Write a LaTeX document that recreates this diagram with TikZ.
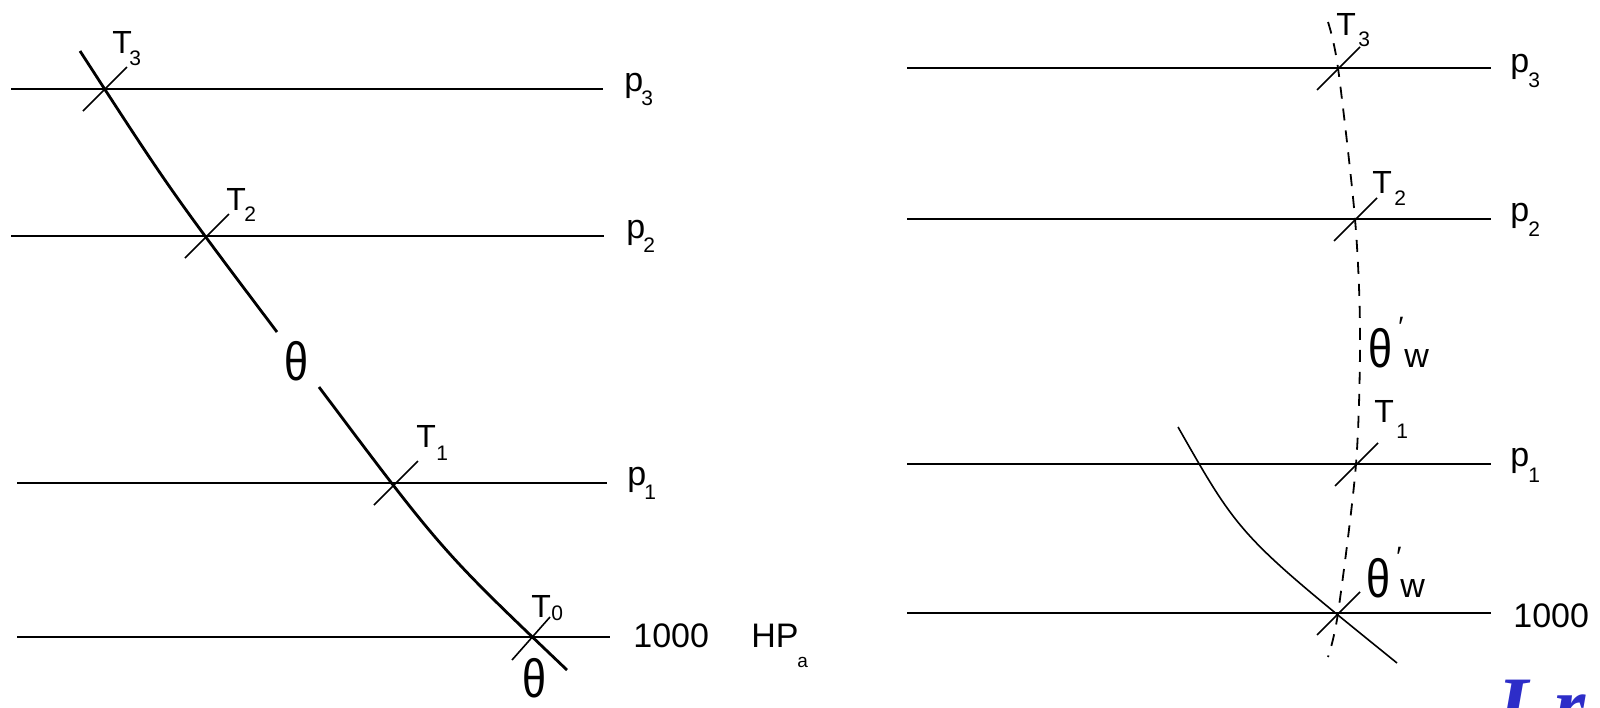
\documentclass[tikz,border=0pt]{standalone}
\usepackage{fontspec}
\setmainfont{Liberation Sans}
\newfontfamily\tms{Liberation Serif}
\definecolor{blueT}{RGB}{45,45,200}
\begin{document}
\begin{tikzpicture}[x=0.5pt,y=-0.5pt,
  hline/.style={line width=1.2pt},
  hlineR/.style={line width=0.9pt},
  curveL/.style={line width=1.4pt},
  curveR/.style={line width=0.8pt},
  dashcurve/.style={line width=0.9pt, dash pattern=on 6pt off 5pt},
  tick/.style={line width=0.8pt},
  lab/.style={inner sep=0pt, anchor=base west, font=\fontsize{17}{17}\selectfont},
  tlab/.style={inner sep=0pt, anchor=base west, font=\fontsize{16}{16}\selectfont},
  sublab/.style={inner sep=0pt, anchor=base west, font=\fontsize{10.5}{10.5}\selectfont},
  thlab/.style={inner sep=0pt, anchor=base west, font=\fontsize{27}{27}\selectfont},
  wlab/.style={inner sep=0pt, anchor=base west, font=\fontsize{17}{17}\selectfont},
  primelab/.style={inner sep=0pt, anchor=base west, font=\fontsize{14}{14}\selectfont},
]
\clip (0,0) rectangle (1600,707);
\fill[white] (0,0) rectangle (1600,707);

% ---------- left panel ----------
\coordinate (L3a) at (11,89);  \coordinate (L3b) at (603,89);
\coordinate (L2a) at (11,236); \coordinate (L2b) at (604,236);
\coordinate (L1a) at (17,483); \coordinate (L1b) at (607,483);
\coordinate (L0a) at (17,637); \coordinate (L0b) at (610,637);
\coordinate (xT3) at (105,89);
\coordinate (xT2) at (207,236);
\coordinate (xT1) at (396,483);
\coordinate (xT0) at (533,637);
\coordinate (Ltop) at (80,51);
\coordinate (Lc1) at (170,190);
\coordinate (Lmid1) at (277,332);
\coordinate (Lmid2) at (319,387);
\coordinate (Lc2) at (442,551);
\coordinate (Lbot) at (567,670);

\draw[hline] (L3a) -- (L3b);
\draw[hline] (L2a) -- (L2b);
\draw[hline] (L1a) -- (L1b);
\draw[hline] (L0a) -- (L0b);
\draw[curveL] (Ltop) .. controls (Lc1) .. (Lmid1);
\draw[curveL] (Lmid2) .. controls (Lc2) .. (Lbot);
\foreach \c in {xT3,xT2,xT1}
  \draw[tick] ([shift={(-22,22)}]\c) -- ([shift={(22,-22)}]\c);
\draw[tick] ([shift={(-21,23)}]xT0) -- ([shift={(17,-20)}]xT0);

\node[tlab] (T3L) at (112,53) {T};  \node[sublab] (T3Ls) at (129,65) {3};
\node[tlab] (T2L) at (226,210) {T}; \node[sublab] (T2Ls) at (244,221) {2};
\node[tlab] (T1L) at (416,447) {T}; \node[sublab] (T1Ls) at (436,460) {1};
\node[tlab] (T0L) at (531,617) {T}; \node[sublab] (T0Ls) at (551,620) {0};

\node[lab] (p3L) at (624,91) {p};  \node[sublab] (p3Ls) at (641,105) {3};
\node[lab] (p2L) at (626,238) {p}; \node[sublab] (p2Ls) at (643,252) {2};
\node[lab] (p1L) at (627,485) {p}; \node[sublab] (p1Ls) at (644,499) {1};
\node[lab] (kL) at (633,647) {1000};
\node[lab] (HPL) at (751,647) {HP};
\node[inner sep=0pt, anchor=base west, font=\fontsize{9.5}{9.5}\selectfont] (aL) at (797,667) {a};

\node[thlab] (thL1) at (284,380) {\scalebox{0.8}[1]{θ}};
\node[thlab] (thL2) at (522,697) {\scalebox{0.8}[1]{θ}};

% ---------- right panel ----------
\coordinate (R3a) at (907,68);  \coordinate (R3b) at (1491,68);
\coordinate (R2a) at (907,219); \coordinate (R2b) at (1491,219);
\coordinate (R1a) at (907,464); \coordinate (R1b) at (1491,464);
\coordinate (R0a) at (907,613); \coordinate (R0b) at (1491,613);
\coordinate (yT3) at (1338,68);
\coordinate (yT2) at (1355,219);
\coordinate (yT1) at (1356,464);
\coordinate (yT0) at (1338,613);
\coordinate (Dtop) at (1328,22);
\coordinate (Dmid) at (1360,333);
\coordinate (Dbot) at (1328,657);
\coordinate (Stop) at (1178,427);
\coordinate (Sc) at (1240,536);
\coordinate (Sbot) at (1397,663);

\draw[hlineR] (R3a) -- (R3b);
\draw[hlineR] (R2a) -- (R2b);
\draw[hlineR] (R1a) -- (R1b);
\draw[hlineR] (R0a) -- (R0b);
\draw[dashcurve] plot[smooth] coordinates {(Dtop) (yT3) (yT2) (Dmid) (yT1) (yT0) (Dbot)};
\draw[curveR] (Stop) .. controls (Sc) .. (Sbot);
\foreach \c in {yT3,yT2,yT1,yT0}
  \draw[tick] ([shift={(-21,22)}]\c) -- ([shift={(22,-21)}]\c);

\node[tlab] (T3R) at (1336,35) {T};  \node[sublab] (T3Rs) at (1358,46) {3};
\node[tlab] (T2R) at (1372,193) {T}; \node[sublab] (T2Rs) at (1394,205) {2};
\node[tlab] (T1R) at (1374,422) {T}; \node[sublab] (T1Rs) at (1396,438) {1};

\node[lab] (p3R) at (1510,72) {p};  \node[sublab] (p3Rs) at (1528,87) {3};
\node[lab] (p2R) at (1510,221) {p}; \node[sublab] (p2Rs) at (1528,236) {2};
\node[lab] (p1R) at (1510,466) {p}; \node[sublab] (p1Rs) at (1528,482) {1};
\node[lab] (kR) at (1513,627) {1000};

\node[thlab] (thR1) at (1368,367) {\scalebox{0.8}[1]{θ}};
\node[primelab] (prR1) at (1398,336) {′};
\node[wlab] (wR1) at (1404,367) {w};
\node[thlab] (thR2) at (1366,597) {\scalebox{0.8}[1]{θ}};
\node[primelab] (prR2) at (1396,566) {′};
\node[wlab] (wR2) at (1400,597) {w};

% blue cut-off text
\node[inner sep=0pt, anchor=base west, text=blueT, font=\tms\fontsize{40}{40}\selectfont\bfseries\itshape] (blue) at (1497,732) {I\hspace{13pt}r};
\end{tikzpicture}
\end{document}
